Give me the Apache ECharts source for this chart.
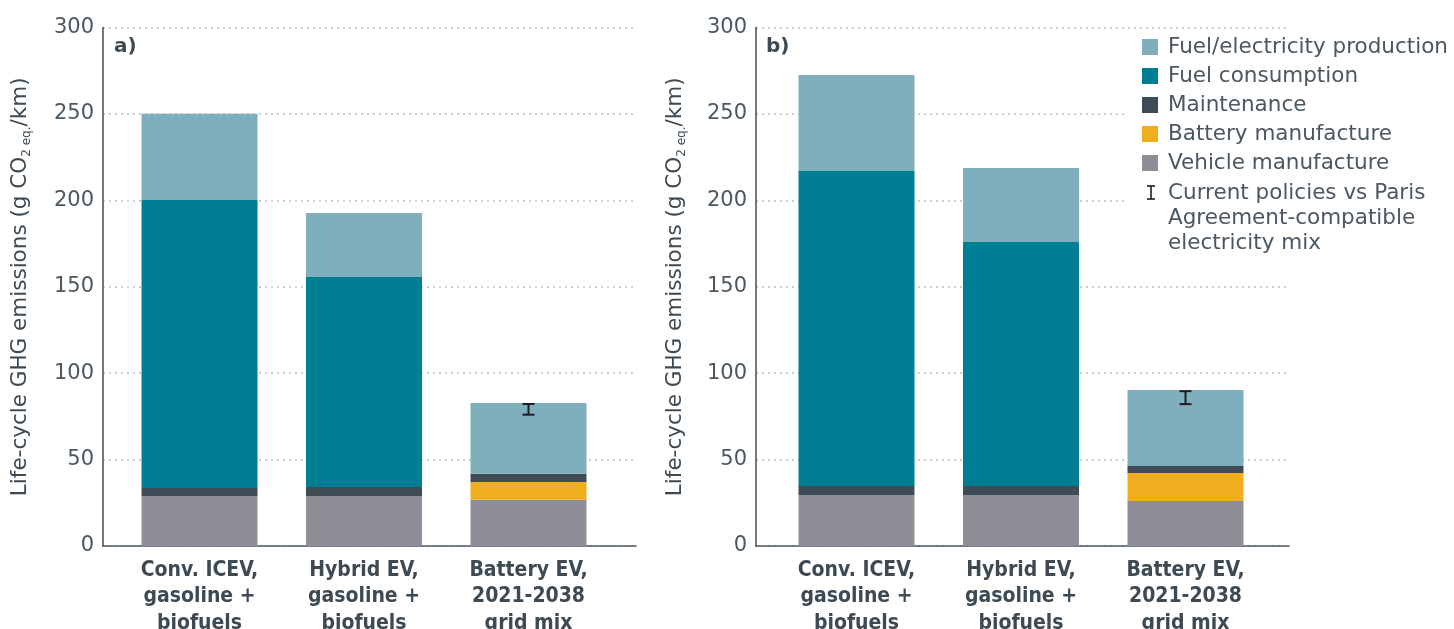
<!DOCTYPE html>
<html><head><meta charset="utf-8">
<script src="https://cdn.jsdelivr.net/npm/echarts@6/dist/echarts.min.js"></script>
<style>html,body{margin:0;padding:0;background:#fff}#c{width:1454px;height:629px}</style>
</head><body><div id="c"></div>
<script>
// ---- data ----
const categories = ['Conv. ICEV,\ngasoline +\nbiofuels', 'Hybrid EV,\ngasoline +\nbiofuels', 'Battery EV,\n2021-2038\ngrid mix'];
const seriesNames = ['Vehicle manufacture', 'Battery manufacture', 'Maintenance', 'Fuel consumption', 'Fuel/electricity production'];
const legendOrder = ['Fuel/electricity production', 'Fuel consumption', 'Maintenance', 'Battery manufacture', 'Vehicle manufacture'];
const errorLegendText = 'Current policies vs Paris\nAgreement-compatible\nelectricity mix';
const panelLabels = ['a)', 'b)'];
const yTitle = '{t|Life-cycle GHG emissions (g CO}{s|2}{s| eq.}{t|/km)}';
const yMin = 0, yMax = 300, yStep = 50;

// panel a
const aVehicle     = [29.0, 29.0, 26.8];
const aBattery     = [0, 0, 10.3];
const aMaintenance = [4.6, 5.2, 4.7];
const aFuelCons    = [166.6, 121.5, 0];
const aProduction  = [50.0, 37.0, 41.0];
const aErrorLow    = [null, null, 76.0];
const aErrorHigh   = [null, null, 82.2];
// panel b
const bVehicle     = [29.5, 29.5, 26.0];
const bBattery     = [0, 0, 16.2];
const bMaintenance = [5.2, 5.2, 4.1];
const bFuelCons    = [182.3, 141.2, 0];
const bProduction  = [55.6, 42.85, 44.0];
const bErrorLow    = [null, null, 82.1];
const bErrorHigh   = [null, null, 89.6];

// ---- style ----
const colors = {
  'Vehicle manufacture': '#8e8e97',
  'Battery manufacture': '#f0ae1f',
  'Maintenance': '#3f4c56',
  'Fuel consumption': '#007e93',
  'Fuel/electricity production': '#7fafbd'
};
const FONT = 'DejaVu Sans';
const FONT_COND = '"DejaVu Sans Condensed", "DejaVu Sans"';
const textCol = '#4b5761';
const darkCol = '#3d4a54';
const axisCol = '#4b5862';
const errCol = '#1b1f22';

const chart = echarts.init(document.getElementById('c'), null, {renderer: 'canvas'});

const gTop = 27.6, gHeight = 518.4;
const frames = [{left: 103, width: 533}, {left: 756, width: 533}];
const bandsLeft = [117.25, 774.25];
const bandW = 493.5;

const grid = [], xAxis = [], yAxis = [], series = [];
frames.forEach((f, p) => {
  grid.push({left: f.left, top: gTop, width: f.width, height: gHeight, containLabel: false, outerBoundsMode: 'none'});
  grid.push({left: bandsLeft[p], top: gTop, width: bandW, height: gHeight, containLabel: false, outerBoundsMode: 'none'});
  xAxis.push({gridIndex: 2 * p, type: 'value', min: 0, max: 1,
    axisLine: {show: true, lineStyle: {color: axisCol, width: 1.6}},
    axisTick: {show: false}, axisLabel: {show: false}, splitLine: {show: false}});
  xAxis.push({gridIndex: 2 * p + 1, type: 'category', data: categories,
    axisLine: {show: false}, axisTick: {show: false},
    axisLabel: {interval: 0, margin: 11, fontFamily: FONT_COND, fontSize: 21, fontWeight: 'bold',
      color: darkCol, lineHeight: 26.5}});
  yAxis.push({gridIndex: 2 * p, type: 'value', min: yMin, max: yMax, interval: yStep,
    axisLine: {show: true, lineStyle: {color: axisCol, width: 1.6}},
    axisTick: {show: false},
    axisLabel: {margin: 9, fontFamily: FONT, fontSize: 21, color: textCol},
    splitLine: {show: true, lineStyle: {color: '#cdcdcd', width: 2, type: [2, 4]}},
    name: yTitle, nameLocation: 'middle', nameGap: p === 0 ? 70 : 68,
    nameTextStyle: {fontFamily: FONT, color: darkCol,
      rich: {t: {fontFamily: FONT, fontSize: 21.5, color: darkCol, lineHeight: 26},
             s: {fontFamily: FONT, fontSize: 12, color: darkCol, lineHeight: 13, verticalAlign: 'bottom'}}}});
  yAxis.push({gridIndex: 2 * p + 1, type: 'value', min: yMin, max: yMax, show: false});
});

const panelData = [
  {'Vehicle manufacture': aVehicle, 'Battery manufacture': aBattery, 'Maintenance': aMaintenance,
   'Fuel consumption': aFuelCons, 'Fuel/electricity production': aProduction, low: aErrorLow, high: aErrorHigh},
  {'Vehicle manufacture': bVehicle, 'Battery manufacture': bBattery, 'Maintenance': bMaintenance,
   'Fuel consumption': bFuelCons, 'Fuel/electricity production': bProduction, low: bErrorLow, high: bErrorHigh}
];

panelData.forEach((d, p) => {
  seriesNames.forEach(n => {
    series.push({name: n, type: 'bar', stack: 'p' + p, xAxisIndex: 2 * p + 1, yAxisIndex: 2 * p + 1,
      barWidth: 116, data: d[n], itemStyle: {color: colors[n]}, emphasis: {disabled: true}});
  });
  const errData = [];
  d.low.forEach((lo, i) => { if (lo != null) errData.push([i, lo, d.high[i]]); });
  series.push({name: 'error' + p, type: 'custom', xAxisIndex: 2 * p + 1, yAxisIndex: 2 * p + 1, z: 5,
    data: errData,
    renderItem: function (params, api) {
      const x = api.value(0);
      const p1 = api.coord([x, api.value(1)]);
      const p2 = api.coord([x, api.value(2)]);
      const hw = 6;
      const st = {stroke: errCol, lineWidth: 2};
      return {type: 'group', children: [
        {type: 'line', shape: {x1: p1[0], y1: p1[1], x2: p2[0], y2: p2[1]}, style: st},
        {type: 'line', shape: {x1: p1[0] - hw, y1: p1[1], x2: p1[0] + hw, y2: p1[1]}, style: st},
        {type: 'line', shape: {x1: p2[0] - hw, y1: p2[1], x2: p2[0] + hw, y2: p2[1]}, style: st}
      ]};
    }});
});

const option = {
  animation: false,
  backgroundColor: '#fff',
  grid, xAxis, yAxis, series,
  title: [
    {text: panelLabels[0], left: 114, top: 37, padding: 0, textStyle: {fontFamily: FONT, fontSize: 20, fontWeight: 'bold', color: darkCol}},
    {text: panelLabels[1], left: 766, top: 37, padding: 0, textStyle: {fontFamily: FONT, fontSize: 20, fontWeight: 'bold', color: darkCol}}
  ],
  legend: {data: legendOrder, orient: 'vertical', left: 1142, top: 36, padding: 0,
    itemWidth: 16, itemHeight: 16, itemGap: 7, icon: 'rect', selectedMode: false,
    textStyle: {fontFamily: FONT, fontSize: 21.5, color: textCol, lineHeight: 22, padding: [0, 0, 0, 5]}},
  graphic: {elements: [
    {type: 'rect', z: 1, silent: true, shape: {x: 1125, y: 30, width: 329, height: 235}, style: {fill: '#fff'}},
    {type: 'line', z: 5, shape: {x1: 1151, y1: 186, x2: 1151, y2: 199}, style: {stroke: errCol, lineWidth: 1.6}},
    {type: 'line', z: 5, shape: {x1: 1147, y1: 186, x2: 1155, y2: 186}, style: {stroke: errCol, lineWidth: 1.6}},
    {type: 'line', z: 5, shape: {x1: 1147, y1: 199, x2: 1155, y2: 199}, style: {stroke: errCol, lineWidth: 1.6}},
    {type: 'text', z: 5, x: 1168, y: 181, style: {text: errorLegendText, fontFamily: FONT, fontSize: 21.5,
      fill: textCol, lineHeight: 25}}
  ]}
};
chart.setOption(option);
</script></body></html>
